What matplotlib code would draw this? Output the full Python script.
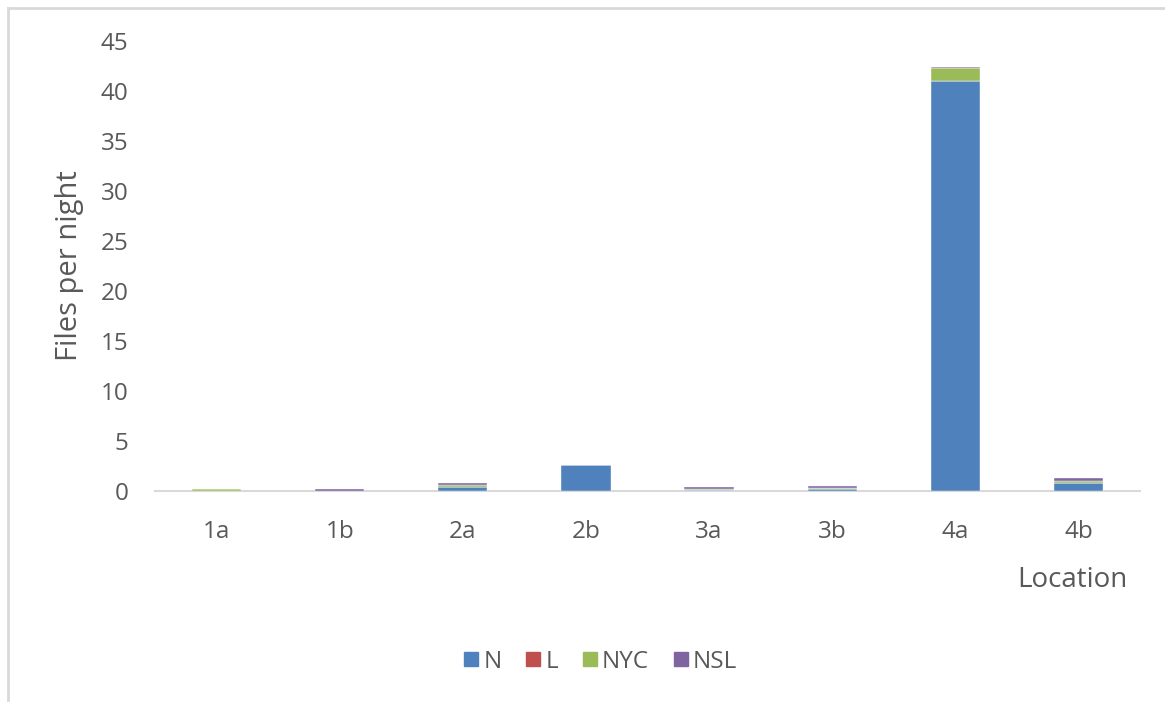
import matplotlib
matplotlib.use("Agg")
import matplotlib.pyplot as plt
from matplotlib.lines import Line2D
import numpy as np

plt.rcParams['font.family'] = ['Open Sans', 'DejaVu Sans']

locations = ["1a", "1b", "2a", "2b", "3a", "3b", "4a", "4b"]
series_names = ["N", "L", "NYC", "NSL"]
n_vals = [0.0, 0.0, 0.40, 2.6, 0.15, 0.20, 41.0, 0.80]
l_vals = [0.0, 0.0, 0.03, 0.0, 0.0, 0.02, 0.05, 0.03]
nyc_vals = [0.20, 0.0, 0.17, 0.0, 0.08, 0.13, 1.25, 0.17]
nsl_vals = [0.02, 0.20, 0.22, 0.0, 0.20, 0.15, 0.15, 0.30]
colors = ["#4F81BD", "#C0504D", "#9BBB59", "#8064A2"]
y_ticks = [0, 5, 10, 15, 20, 25, 30, 35, 40, 45]

fig = plt.figure(figsize=(11.65, 7.06), dpi=100)
ax = fig.add_axes([155 / 1165, 1 - 491 / 706, (1140 - 155) / 1165, (491 - 41) / 706])

x = np.arange(len(locations))
bottom = np.zeros(len(locations))
for name, vals, c in zip(series_names, [n_vals, l_vals, nyc_vals, nsl_vals], colors):
    v = np.array(vals)
    ax.bar(x, v, width=0.4, bottom=bottom, color=c, label=name,
           edgecolor="#ffffff", linewidth=0.3, zorder=3)
    bottom += v

ax.set_xlim(-0.5, len(locations) - 0.5)
ax.set_ylim(0, 45)
ax.set_yticks(y_ticks)
ax.set_xticks(x)
ax.set_xticklabels(locations)
for s in ["top", "right", "left"]:
    ax.spines[s].set_visible(False)
ax.spines["bottom"].set_color("#d9d9d9")
ax.spines["bottom"].set_linewidth(1.5)
ax.tick_params(axis="both", length=0, colors="#595959", labelsize=17.5)
ax.tick_params(axis="x", pad=21)
ax.tick_params(axis="y", pad=19)

ax.set_ylabel("Files per night", fontsize=21, color="#595959", labelpad=12)
fig.text(1127 / 1165, 1 - 580 / 706, "Location", fontsize=20, color="#595959",
         ha="right", va="center")

handles = [Line2D([], [], marker="s", linestyle="none", markersize=10,
                  markerfacecolor=c, markeredgecolor=c) for c in colors]
fig.legend(handles, series_names, loc="center", bbox_to_anchor=(597 / 1165, 1 - 662 / 706),
           ncol=4, frameon=False, fontsize=17.5, handletextpad=-0.1, columnspacing=0.7,
           handlelength=1.2, labelcolor="#595959")

# outer frame along the top and left edges
fig.add_artist(Line2D([8 / 1165, 1.0], [1 - 8 / 706, 1 - 8 / 706], color="#d9d9d9",
                      linewidth=2, transform=fig.transFigure))
fig.add_artist(Line2D([8 / 1165, 8 / 1165], [1 - 8 / 706, 1 - 700 / 706], color="#d9d9d9",
                      linewidth=2, transform=fig.transFigure))

fig.savefig("out.png", dpi=100, facecolor="white")
